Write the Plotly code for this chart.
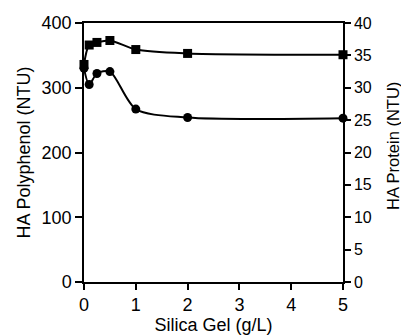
import plotly.graph_objects as go

silica = [0, 0.1, 0.25, 0.5, 1, 2, 5]
square_vals = [336, 366, 370, 373, 359, 353, 351]
circle_vals = [330, 305, 322, 325, 267, 254, 253]
x_ticks = [0, 1, 2, 3, 4, 5]
y1_ticks = [0, 100, 200, 300, 400]
y2_ticks = [0, 5, 10, 15, 20, 25, 30, 35, 40]

font = "Liberation Sans, Arial, Helvetica, sans-serif"

fig = go.Figure()
fig.add_trace(go.Scatter(x=silica, y=square_vals, mode="lines+markers",
                         line=dict(color="black", width=2, shape="spline", smoothing=0.8),
                         marker=dict(symbol="square", size=9, color="black"),
                         showlegend=False, cliponaxis=False))
fig.add_trace(go.Scatter(x=silica, y=circle_vals, mode="lines+markers",
                         line=dict(color="black", width=2, shape="spline", smoothing=0.8),
                         marker=dict(symbol="circle", size=9, color="black"),
                         showlegend=False, cliponaxis=False))
fig.add_trace(go.Scatter(x=[0], y=[0], yaxis="y2", mode="markers",
                         marker=dict(opacity=0), showlegend=False, hoverinfo="skip"))

fig.update_layout(
    width=401, height=335,
    margin=dict(l=84, r=58, t=23, b=53),
    paper_bgcolor="white", plot_bgcolor="white",
    font=dict(family=font, size=18, color="black"),
    xaxis=dict(range=[0, 5], tickvals=x_ticks, showline=True, linecolor="black",
               linewidth=1.5, mirror=True, ticks="outside", ticklen=6, tickwidth=1.5,
               tickcolor="black", showgrid=False, zeroline=False, automargin=False,
               title=dict(text="Silica Gel (g/L)", standoff=2, font=dict(size=18)),
               tickfont=dict(size=18)),
    yaxis=dict(range=[0, 400], tickvals=y1_ticks, showline=True, linecolor="black",
               linewidth=1.5, ticks="outside", ticklen=7, tickwidth=1.5,
               tickcolor="black", showgrid=False, zeroline=False, automargin=False,
               title=dict(text="HA Polyphenol (NTU)", standoff=6, font=dict(size=18)),
               tickfont=dict(size=18)),
    yaxis2=dict(range=[0, 40], tickvals=y2_ticks, overlaying="y", side="right",
                showline=True, linecolor="black", linewidth=1.5, ticks="outside",
                ticklen=6, tickwidth=1.5, tickcolor="black", showgrid=False, automargin=False,
                zeroline=False, tickfont=dict(size=16)),
    annotations=[dict(text="HA Protein (NTU)", xref="paper", yref="paper",
                      x=1, y=0.525, xshift=50, xanchor="center", yanchor="middle",
                      textangle=-90, showarrow=False, font=dict(size=16.5))],
)

fig.write_html("out.html")
